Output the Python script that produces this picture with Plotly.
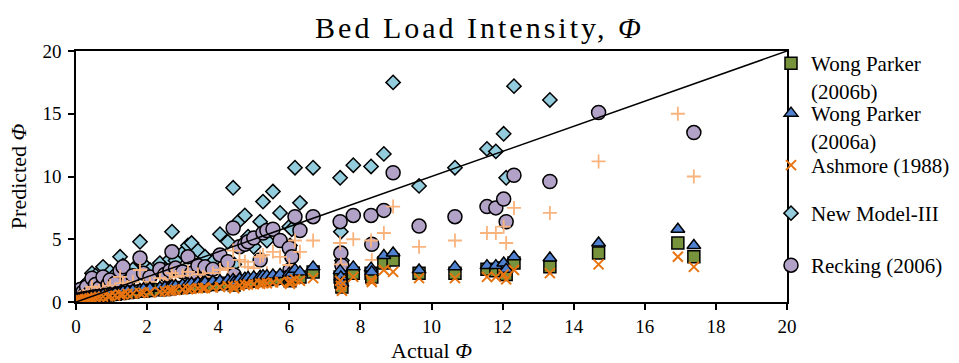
import plotly.graph_objects as go

# ---------------- data ----------------
actual = [0.02, 0.05, 0.08, 0.12, 0.15, 0.2, 0.25, 0.3, 0.38, 0.45,
          0.55, 0.65, 0.76, 0.9, 0.96, 1.1, 1.24, 1.32, 1.45, 1.6,
          1.8, 1.9, 2.08, 2.36, 2.5, 2.64, 2.7, 2.8, 3.0, 3.15,
          3.25, 3.43, 3.57, 3.63, 3.85, 4.05, 4.27, 4.42, 4.45, 4.6,
          4.75, 4.84, 5.0, 5.18, 5.26, 5.37, 5.54, 5.74, 6.0, 6.02,
          6.07, 6.16, 6.3, 6.67, 7.43, 7.45, 7.48, 7.8, 8.3, 8.32,
          8.66, 8.92, 9.65, 10.66, 11.56, 11.81, 12.03, 12.1, 12.32, 13.33,
          14.7, 16.93, 17.38]

new_model_iii = [0.1, 0.3, 0.6, 0.9, 0.5, 1.2, 0.8, 1.5, 1.0, 2.3,
                 2.1, 1.6, 2.8, 1.8, 2.4, 2.2, 3.6, 2.9, 2.0, 2.6,
                 4.8, 3.0, 2.55, 3.1, 2.6, 3.4, 5.6, 3.3, 3.9, 4.5,
                 4.7, 4.1, 3.3, 3.6, 3.2, 5.4, 4.8, 9.1, 3.0, 6.5,
                 6.9, 5.2, 4.4, 6.4, 8.0, 4.9, 8.8, 7.1, 6.0, 4.5,
                 5.8, 10.7, 7.9, 10.7, 9.9, 5.6, 3.3, 10.9, 10.8, None,
                 11.8, 17.5, 9.25, 10.7, 12.2, 12.0, 13.4, 9.9, 17.2, 16.1,
                 None, None, None]

recking_2006 = [0.1, 0.2, 0.5, 1.0, 0.3, 0.8, 0.6, 1.2, 0.7, 1.9,
                1.4, 1.1, 2.0, 1.4, 1.75, 1.5, 2.5, 2.8, 1.6, 2.1,
                3.5, 2.3, 2.0, 2.6, 2.2, 2.5, 4.0, 2.7, 2.4, 3.6,
                2.3, 2.9, 1.75, 2.8, 2.6, 3.75, 3.2, 5.9, 2.15, 4.4,
                4.6, 4.8, 5.1, 3.35, 5.5, 5.7, 5.8, 4.9, 4.3, 2.55,
                3.6, 6.8, 5.7, 6.8, 6.4, 3.9, 2.9, 6.9, 6.9, 4.6,
                7.3, 10.3, 6.05, 6.8, 7.6, 7.5, 8.2, 6.4, 10.1, 9.6,
                15.1, None, 13.5]

# light-orange "+" series (no legend entry in the original)
plus_series = [0.05, 0.1, 0.3, 0.4, 0.2, 0.5, 0.4, 0.7, 0.6, 1.2,
               0.8, 0.9, 1.0, 1.1, 1.3, 1.0, 2.0, 1.5, 1.2, 1.6,
               2.55, 1.4, 1.6, 1.9, 1.5, 1.75, 2.3, 2.0, 2.1, 2.4,
               1.6, 2.2, 2.0, 1.9, 2.3, 2.55, 2.7, 4.1, 1.8, 3.35,
               3.2, 2.8, 2.7, 3.6, 3.75, 2.3, 4.0, 3.6, 2.95, 1.75,
               2.4, 4.9, 4.0, 4.9, 4.7, 3.0, 2.3, 5.0, 4.9, 3.35,
               5.5, 7.6, 4.4, 4.9, 5.5, 5.5, 6.0, 4.7, 7.5, 7.1,
               11.2, 15.0, 10.0]

wong_parker_2006a = [0.05, 0.1, 0.15, 0.2, 0.2, 0.25, 0.3, 0.35, 0.4, 0.45,
                     0.5, 0.55, 0.6, 0.65, 0.7, 0.75, 0.8, 0.85, 0.9, 0.95,
                     1.0, 1.05, 1.1, 1.15, 1.2, 1.25, 1.3, 1.3, 1.4, 1.45,
                     1.5, 1.55, 1.55, 1.6, 1.65, 1.7, 1.75, 1.8, 1.6, 1.85,
                     1.9, 1.95, 2.0, 2.05, 2.1, 2.1, 2.15, 2.2, 2.3, 2.0,
                     2.3, 2.6, 2.4, 2.8, 2.5, 2.0, 1.5, 2.8, 2.7, 2.4,
                     3.7, 3.9, 2.55, 2.8, 2.9, 2.9, 3.1, 2.6, 3.6, 3.5,
                     4.7, 5.8, 4.5]

wong_parker_2006b = [0.04, 0.08, 0.12, 0.17, 0.16, 0.2, 0.25, 0.3, 0.33, 0.38,
                     0.42, 0.47, 0.5, 0.55, 0.6, 0.62, 0.68, 0.72, 0.76, 0.8,
                     0.85, 0.88, 0.92, 0.97, 1.0, 1.05, 1.1, 1.1, 1.15, 1.2,
                     1.25, 1.3, 1.3, 1.35, 1.4, 1.45, 1.5, 1.5, 1.35, 1.55,
                     1.6, 1.65, 1.7, 1.75, 1.75, 1.8, 1.85, 1.9, 1.95, 1.7,
                     2.0, 2.2, 2.0, 2.4, 2.0, 1.6, 1.2, 2.3, 2.3, 2.0,
                     3.1, 3.35, 2.3, 2.3, 2.6, 2.5, 2.7, 2.2, 3.1, 2.8,
                     3.9, 4.7, 3.6]

ashmore_1988 = [0.03, 0.06, 0.1, 0.14, 0.13, 0.17, 0.2, 0.25, 0.28, 0.32,
                0.36, 0.4, 0.43, 0.46, 0.5, 0.52, 0.58, 0.6, 0.65, 0.68,
                0.72, 0.75, 0.78, 0.82, 0.85, 0.9, 0.93, 0.95, 1.0, 1.02,
                1.05, 1.1, 1.1, 1.12, 1.15, 1.2, 1.25, 1.25, 1.1, 1.3,
                1.35, 1.4, 1.42, 1.45, 1.5, 1.5, 1.55, 1.6, 1.6, 1.45,
                1.65, 1.8, 1.7, 1.9, 1.7, 1.3, 0.9, 2.0, 1.75, 1.6,
                2.55, 2.4, 1.9, 1.9, 2.0, 2.0, 2.2, 1.8, 2.55, 2.3,
                3.0, 3.6, 2.8]

equality_line = [0, 20]

x_ticks = [0, 2, 4, 6, 8, 10, 12, 14, 16, 18, 20]
y_ticks = [0, 5, 10, 15, 20]

# ---------------- figure ----------------
FONT = "Liberation Serif"
fig = go.Figure()

outline = dict(color="black", width=1.5)

fig.add_trace(go.Scatter(
    x=actual, y=new_model_iii, mode="markers", name="New Model-III",
    marker=dict(symbol="diamond", size=11, color="#93CDDD", line=outline),
    legend="legend4"))
fig.add_trace(go.Scatter(
    x=actual, y=recking_2006, mode="markers", name="Recking (2006)",
    marker=dict(symbol="circle", size=14, color="#B3A2C7", line=outline),
    legend="legend5"))
fig.add_trace(go.Scatter(
    x=actual, y=plus_series, mode="markers", name="+", showlegend=False,
    marker=dict(symbol="cross-thin", size=10,
                line=dict(color="#F9B47E", width=1.8))))
fig.add_trace(go.Scatter(
    x=actual, y=wong_parker_2006b, mode="markers", name="Wong Parker<br>(2006b)",
    marker=dict(symbol="square", size=12, color="#77933C", line=outline),
    legend="legend"))
fig.add_trace(go.Scatter(
    x=actual, y=wong_parker_2006a, mode="markers", name="Wong Parker<br>(2006a)",
    marker=dict(symbol="triangle-up", size=12, color="#4F81D0", line=outline),
    legend="legend2"))
fig.add_trace(go.Scatter(
    x=actual, y=ashmore_1988, mode="markers", name="Ashmore (1988)",
    marker=dict(symbol="x-thin", size=10,
                line=dict(color="#E8730F", width=2)),
    legend="legend3"))
fig.add_trace(go.Scatter(
    x=equality_line, y=equality_line, mode="lines", showlegend=False,
    line=dict(color="black", width=1.5), hoverinfo="skip"))

def leg(top_px):
    return dict(xref="container", yref="container",
                x=771 / 959, y=1 - top_px / 363, xanchor="left", yanchor="top",
                font=dict(family=FONT, size=21, color="black"),
                bgcolor="rgba(0,0,0,0)", valign="top", itemsizing="trace")

fig.update_layout(
    width=959, height=363,
    margin=dict(l=76, r=172, t=51, b=61, autoexpand=False),
    paper_bgcolor="white", plot_bgcolor="white",
    font=dict(family=FONT, color="black"),
    title=dict(text="Bed Load Intensity, <i>Φ</i>", x=0.5, xanchor="center",
               y=1 - 27 / 363, yanchor="middle",
               font=dict(family=FONT, size=30, color="black")),
    legend=leg(43),
    legend2=leg(93),
    legend3=leg(145),
    legend4=leg(193),
    legend5=leg(245),
    xaxis=dict(range=[0, 20], tickvals=x_ticks, ticks="outside", ticklen=6,
               tickwidth=1.5, tickcolor="black", showline=True, linecolor="black",
               linewidth=1.5, mirror=True, showgrid=False, zeroline=False,
               automargin=False,
               tickfont=dict(family=FONT, size=19, color="black"),
               title=dict(text="Actual <i>Φ</i>", standoff=8,
                          font=dict(family=FONT, size=22, color="black"))),
    yaxis=dict(range=[0, 20], tickvals=y_ticks, ticks="outside", ticklen=6,
               tickwidth=1.5, tickcolor="black", showline=True, linecolor="black",
               linewidth=1.5, mirror=True, showgrid=False, zeroline=False,
               automargin=False, ticklabelstandoff=3,
               tickfont=dict(family=FONT, size=19, color="black"),
               title=dict(text="Predicted <i>Φ</i>", standoff=10,
                          font=dict(family=FONT, size=22, color="black"))),
)

fig.write_html("out.html", config={"displayModeBar": False},
               post_script="document.body.style.margin='0';"
                           "document.querySelectorAll('.gtitle').forEach(function(e){e.style.letterSpacing='3px';});")
